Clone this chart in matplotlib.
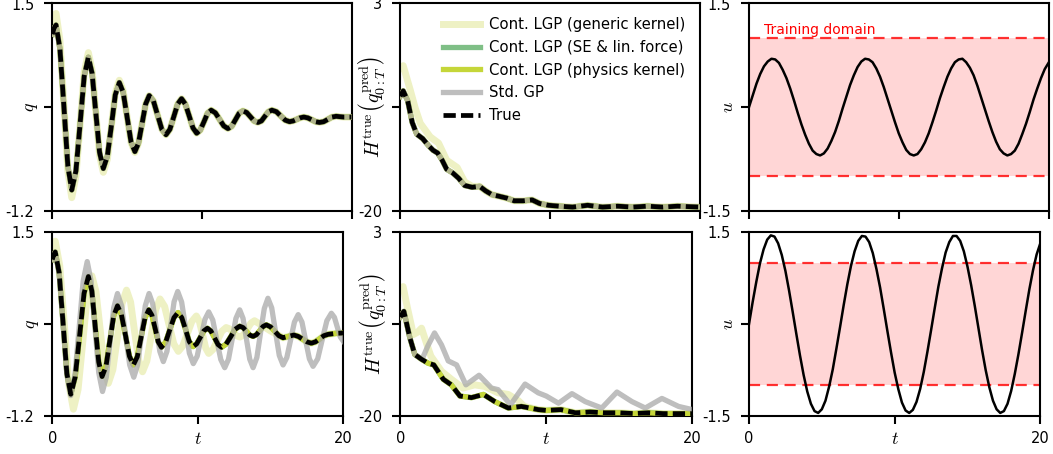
import numpy as np
import matplotlib
matplotlib.use('Agg')
import matplotlib.pyplot as plt

plt.rcParams['mathtext.fontset'] = 'cm'
plt.rcParams['axes.unicode_minus'] = False
plt.rcParams['font.size'] = 10

# ---------------- data ----------------
# top row, q(t) : true trajectory (SE, physics kernel and Std. GP lie on it)
t_q_top = [0, 0.12, 0.25, 0.51, 0.78, 1.04, 1.30, 1.58, 1.86, 2.13, 2.41, 2.66, 2.91, 3.16, 3.41,
           3.68, 3.95, 4.21, 4.48, 4.74, 5.00, 5.26, 5.52, 5.76, 6.00, 6.24, 6.48, 6.76, 7.04, 7.32,
           7.60, 7.86, 8.12, 8.38, 8.64, 8.89, 9.15, 9.40, 9.65, 9.89, 10.14, 10.38, 10.62, 10.90,
           11.18, 11.46, 11.74, 11.99, 12.24, 12.49, 12.74, 12.99, 13.24, 13.49, 13.74, 13.98, 14.21,
           14.45, 14.68, 14.98, 15.27, 15.57, 15.86, 16.10, 16.34, 16.57, 16.81, 17.07, 17.34, 17.60,
           17.86, 18.14, 18.42, 18.69, 18.97, 19.50, 20.00]
q_true_top = [1.10, 1.18, 1.22, 0.91, 0.145, -0.62, -0.93, -0.68, -0.065, 0.55, 0.80, 0.59, 0.075,
              -0.44, -0.65, -0.49, -0.09, 0.31, 0.47, 0.34, 0.02, -0.30, -0.43, -0.32, -0.065, 0.19,
              0.30, 0.23, 0.045, -0.14, -0.21, -0.14, 0.025, 0.19, 0.26, 0.19, 0.035, -0.12, -0.19,
              -0.15, -0.04, 0.07, 0.11, 0.075, -0.01, -0.095, -0.13, -0.10, -0.015, 0.07, 0.10, 0.08,
              0.025, -0.03, -0.05, -0.03, 0.03, 0.09, 0.11, 0.09, 0.035, -0.02, -0.04, -0.03, -0.01,
              0.01, 0.02, 0.01, -0.015, -0.04, -0.05, -0.04, -0.01, 0.02, 0.03, 0.02, 0.02]
# generic kernel overshoots a bit at the start, then joins the true curve
q_gen_top = [1.25, 1.35, 1.37, 1.02, 0.17, -0.68, -1.03, -0.75, -0.07, 0.60, 0.86, 0.63, 0.08,
             -0.48, -0.70, -0.53, -0.10, 0.33, 0.50, 0.36, 0.02, -0.31, -0.44] + q_true_top[23:]

# bottom row, q(t)
t_q_bot = [0, 0.1, 0.2, 0.47, 0.74, 1.0, 1.27, 1.57, 1.88, 2.18, 2.48, 2.72, 2.95, 3.19, 3.42, 3.69,
           3.95, 4.22, 4.48, 4.75, 5.03, 5.30, 5.57, 5.84, 6.10, 6.37, 6.63, 6.85, 7.07, 7.28, 7.5,
           7.79, 8.07, 8.36, 8.64, 8.90, 9.16, 9.41, 9.67, 9.92, 10.17, 10.41, 10.66, 10.90, 11.15,
           11.39, 11.63, 11.94, 12.26, 12.57, 12.88, 13.11, 13.34, 13.57, 13.8, 14.03, 14.26, 14.48,
           14.71, 15.0, 15.29, 15.57, 15.86, 16.23, 16.6, 16.9, 17.2, 17.5, 17.8, 18.09, 18.38,
           18.66, 18.95, 19.5, 20]
q_true_bot = [1.10, 1.17, 1.21, 0.905, 0.165, -0.575, -0.88, -0.63, -0.015, 0.60, 0.85, 0.635,
              0.115, -0.405, -0.62, -0.47, -0.10, 0.27, 0.42, 0.29, -0.015, -0.32, -0.45, -0.33,
              -0.045, 0.24, 0.36, 0.28, 0.085, -0.11, -0.19, -0.115, 0.065, 0.245, 0.32, 0.245, 0.07,
              -0.105, -0.18, -0.14, -0.045, 0.05, 0.09, 0.05, -0.05, -0.15, -0.19, -0.145, -0.035,
              0.075, 0.12, 0.10, 0.045, -0.01, -0.03, -0.005, 0.055, 0.115, 0.14, 0.11, 0.045, -0.02,
              -0.05, -0.03, -0.01, -0.03, -0.07, -0.11, -0.13, -0.11, -0.065, -0.02, 0.0, 0.015, 0.02]

t_gp_bot = [0, 0.1, 0.2, 0.47, 0.74, 1.0, 1.27, 1.55, 1.84, 2.12, 2.4, 2.66, 2.93, 3.19, 3.45, 3.71,
            3.97, 4.22, 4.48, 4.76, 5.04, 5.32, 5.6, 5.86, 6.13, 6.39, 6.65, 6.90, 7.14, 7.39, 7.63,
            7.88, 8.13, 8.37, 8.62, 8.89, 9.16, 9.42, 9.69, 9.96, 10.22, 10.49, 10.75, 11.03, 11.30,
            11.58, 11.85, 12.11, 12.37, 12.62, 12.88, 13.11, 13.34, 13.57, 13.8, 14.06, 14.31, 14.57,
            14.82, 15.08, 15.34, 15.60, 15.86, 16.12, 16.38, 16.64, 16.9, 17.16, 17.41, 17.67, 17.92,
            18.24, 18.55, 18.87, 19.18, 19.39, 19.59, 19.80, 20]
q_gp_bot = [1.10, 1.17, 1.21, 0.90, 0.155, -0.59, -0.90, -0.61, 0.085, 0.78, 1.07, 0.79, 0.115,
            -0.56, -0.84, -0.63, -0.12, 0.39, 0.60, 0.42, -0.015, -0.45, -0.63, -0.45, -0.015, 0.42,
            0.60, 0.45, 0.10, -0.25, -0.40, -0.25, 0.115, 0.48, 0.63, 0.475, 0.10, -0.275, -0.43,
            -0.32, -0.05, 0.22, 0.33, 0.21, -0.08, -0.37, -0.49, -0.365, -0.065, 0.235, 0.36, 0.235,
            -0.065, -0.365, -0.49, -0.34, 0.02, 0.38, 0.53, 0.39, 0.04, -0.31, -0.45, -0.34, -0.08,
            0.18, 0.29, 0.18, -0.09, -0.36, -0.47, -0.36, -0.08, 0.20, 0.31, 0.25, 0.105, -0.04, -0.10]

t_gen_bot = [0, 0.1, 0.2, 0.51, 0.83, 1.14, 1.45, 1.77, 2.09, 2.40, 2.72, 3.0, 3.29, 3.57, 3.85, 4.16,
             4.48, 4.79, 5.1, 5.38, 5.65, 5.93, 6.2, 6.5, 6.8, 7.1, 7.4, 7.72, 8.03, 8.35, 8.66, 8.97,
             9.28, 9.59, 9.9, 10.11, 10.33, 10.54, 10.75, 11.05, 11.35, 11.65, 11.95, 12.19, 12.43,
             12.66, 12.9, 13.15, 13.4, 13.65, 13.9, 14.45, 15.0, 15.43, 15.86, 16.23, 16.6, 16.9, 17.2,
             17.5, 17.8, 18.09, 18.38, 18.66, 18.95, 19.5, 20]
q_gen_bot = [1.25, 1.33, 1.37, 1.01, 0.135, -0.74, -1.10, -0.81, -0.12, 0.57, 0.86, 0.63, 0.07,
             -0.49, -0.72, -0.52, -0.035, 0.45, 0.65, 0.475, 0.05, -0.375, -0.55, -0.39, -0.015, 0.36,
             0.52, 0.41, 0.135, -0.14, -0.25, -0.17, 0.01, 0.19, 0.27, 0.19, -0.005, -0.20, -0.28,
             -0.22, -0.09, 0.045, 0.10, 0.08, 0.03, -0.02, -0.04, -0.005, 0.08, 0.165, 0.20, 0.125,
             0.05, 0.0, -0.05, -0.03, -0.01, -0.03, -0.07, -0.11, -0.13, -0.11, -0.065, -0.02, 0.0,
             0.015, 0.02]

# top row, true energy of the predicted trajectory
t_h_top = [0, 0.2, 0.5, 0.8, 1.1, 1.5, 1.9, 2.2, 2.5, 2.8, 3.1, 3.5, 3.9, 4.3, 4.8, 5.3, 5.7, 6.1,
           6.6, 7.1, 7.6, 8.2, 8.8, 9.3, 9.9, 10.6, 11.5, 12.5, 13.5, 14.5, 15.5, 16.5, 17.5, 18.5, 20]
h_true_top = [-7.3, -6.7, -7.8, -10.2, -11.5, -12.0, -12.8, -13.3, -13.6, -14.4, -15.4, -15.8, -16.4,
              -17.2, -17.4, -17.3, -17.8, -18.2, -18.4, -18.6, -18.9, -18.9, -18.8, -19.2, -19.4,
              -19.5, -19.6, -19.4, -19.6, -19.5, -19.6, -19.5, -19.6, -19.5, -19.6]
t_h_gen_top = [0, 0.2, 0.67, 1.0, 1.34, 2.0, 2.56, 3.1, 3.8, 4.3, 4.8] + t_h_top[15:]
h_gen_top = [-4.2, -3.9, -6.6, -8.6, -10.3, -11.8, -12.5, -14.4, -15.2, -16.8, -17.3] + h_true_top[15:]

# bottom row energies
t_h_bot = [0, 0.25, 0.66, 1.0, 1.46, 1.92, 2.3, 2.95, 3.5, 4.09, 4.88, 5.7, 6.48, 7.4, 8.3, 9.45, 10.0,
           11.0, 12.0, 13.0, 14.0, 15.0, 16.0, 17.0, 18.0, 19.0, 20]
h_true_bot = [-7.6, -6.9, -10.2, -12.3, -12.9, -13.4, -13.6, -15.4, -16.1, -17.5, -17.7, -17.3, -18.2,
              -19.0, -18.8, -19.2, -19.3, -19.2, -19.6, -19.5, -19.6, -19.6, -19.7, -19.6, -19.7,
              -19.7, -19.7]
t_h_gp_bot = [0, 0.25, 0.66, 1.0, 1.5, 1.9, 2.35, 2.83, 3.29, 3.86, 4.5, 5.4, 6.25, 6.7, 7.55, 8.55,
              9.45, 10.0, 10.84, 11.76, 12.67, 13.8, 14.84, 15.87, 16.78, 17.92, 19.06, 20]
h_gp_bot = [-7.6, -6.9, -10.2, -12.3, -12.9, -11.2, -9.6, -11.1, -13.1, -13.6, -16.1, -14.9, -16.5,
            -16.7, -18.6, -16.0, -17.1, -17.5, -18.4, -17.2, -18.2, -19.0, -17.0, -18.2, -19.0,
            -17.8, -18.8, -19.2]
t_h_gen_bot = [0, 0.2, 0.5, 0.9, 1.2, 1.46, 1.8, 2.1, 2.83, 3.5, 4.3, 5.1, 5.8, 6.7, 7.4, 8.1, 8.5] + t_h_bot[15:]
h_gen_bot = [-4.2, -3.8, -6.5, -9.8, -9.5, -9.0, -10.9, -12.5, -14.4, -15.4, -16.5, -16.1, -16.3,
             -17.1, -17.3, -18.1, -18.8] + h_true_bot[15:]

# control input u(t), sampled every 0.25
t_u = np.arange(0, 20.001, 0.25)
u_top = [0, 0.17, 0.34, 0.48, 0.59, 0.66, 0.70, 0.69, 0.64, 0.54,
         0.42, 0.27, 0.10, -0.08, -0.25, -0.40, -0.53, -0.63, -0.68, -0.70,
         -0.67, -0.60, -0.49, -0.36, -0.20, -0.02, 0.15, 0.32, 0.46, 0.58,
         0.66, 0.70, 0.69, 0.65, 0.56, 0.44, 0.29, 0.12, -0.05, -0.22,
         -0.38, -0.51, -0.62, -0.68, -0.70, -0.68, -0.61, -0.51, -0.38, -0.22,
         -0.05, 0.13, 0.29, 0.44, 0.56, 0.65, 0.69, 0.70, 0.65, 0.57,
         0.46, 0.31, 0.14, -0.03, -0.20, -0.36, -0.50, -0.61, -0.67, -0.70,
         -0.68, -0.63, -0.53, -0.39, -0.24, -0.07, 0.11, 0.27, 0.42, 0.55, 0.64]
u_bot = [0, 0.36, 0.69, 0.99, 1.22, 1.38, 1.45, 1.43, 1.32, 1.13,
         0.87, 0.55, 0.20, -0.16, -0.51, -0.83, -1.10, -1.30, -1.42, -1.45,
         -1.39, -1.25, -1.02, -0.74, -0.40, -0.05, 0.31, 0.65, 0.95, 1.19,
         1.36, 1.44, 1.43, 1.34, 1.16, 0.90, 0.60, 0.25, -0.11, -0.46,
         -0.79, -1.06, -1.28, -1.41, -1.45, -1.40, -1.27, -1.06, -0.78, -0.45,
         -0.10, 0.26, 0.61, 0.91, 1.17, 1.34, 1.44, 1.44, 1.36, 1.19,
         0.94, 0.64, 0.30, -0.06, -0.42, -0.75, -1.03, -1.25, -1.39, -1.45,
         -1.42, -1.30, -1.09, -0.81, -0.49, -0.14, 0.22, 0.57, 0.88, 1.14, 1.32]
train_lo, train_hi = -1.0, 1.0

labels = ['Cont. LGP (generic kernel)', 'Cont. LGP (SE & lin. force)',
          'Cont. LGP (physics kernel)', 'Std. GP', 'True']

# ---------------- styling ----------------
c_gen = '#eef1c4'
c_se = '#7fbf86'
c_phys = '#c5d639'
c_gp = '#a8a8a8'


def draw_runs(ax, gen, se, phys, gp, true, legend=False):
    lab = labels if legend else [None] * 5
    ax.plot(*gen, color=c_gen, lw=5.0, label=lab[0], zorder=1)
    ax.plot(*se, color=c_se, lw=3.8, label=lab[1], zorder=2)
    ax.plot(*phys, color=c_phys, lw=3.8, label=lab[2], zorder=3)
    ax.plot(*gp, color=c_gp, lw=3.8, alpha=0.75, label=lab[3], zorder=4)
    ax.plot(*true, color='k', lw=3.4, dashes=(2.6, 1.1), label=lab[4], zorder=5)


def style(ax, ylim, ylab, ylabel, bottom, ylab_size=13):
    ax.set_xlim(0, 20)
    ax.set_ylim(*ylim)
    ax.set_xticks([0, 10, 20])
    ax.set_yticks([ylim[0], (ylim[0] + ylim[1]) / 2, ylim[1]])
    ax.set_yticklabels([ylab[0], '', ylab[1]])
    if bottom:
        ax.set_xticklabels(['0', '', '20'])
        ax.set_xlabel('$t$', fontsize=13)
        ax.xaxis.set_label_coords(0.5, -0.075)
    else:
        ax.set_xticklabels(['', '', ''])
    ax.set_ylabel(ylabel, fontsize=ylab_size)
    ax.yaxis.set_label_coords(-0.04, 0.5)
    for s in ax.spines.values():
        s.set_linewidth(1.5)
    ax.tick_params(direction='out', length=6, width=1.5, labelsize=10.5)
    ax.tick_params(axis='y', pad=7)
    ax.tick_params(axis='x', pad=5)


def draw_u(ax, u, with_text):
    ax.axhspan(train_lo, train_hi, color='red', alpha=0.16, lw=0, zorder=0)
    ax.axhline(train_hi, color='red', alpha=0.8, lw=1.6, dashes=(5, 3))
    ax.axhline(train_lo, color='red', alpha=0.8, lw=1.6, dashes=(5, 3))
    ax.plot(t_u, u, color='k', lw=1.8, zorder=3)
    if with_text:
        ax.text(1.0, train_hi + 0.02, 'Training domain', color='red', fontsize=10,
                ha='left', va='bottom')


fig = plt.figure(figsize=(10.53, 4.54), dpi=100)
W, H = 1053.0, 454.0


def add_ax(x0, x1, y0, y1):
    return fig.add_axes([x0 / W, 1 - y1 / H, (x1 - x0) / W, (y1 - y0) / H])


hlab = r'$H^{\mathrm{true}}\left(q^{\mathrm{pred}}_{0:T}\right)$'

# top row
ax = add_ax(52.3, 351.5, 3.5, 210.7)
draw_runs(ax, (t_q_top, q_gen_top), (t_q_top, q_true_top), (t_q_top, q_true_top),
          (t_q_top, q_true_top), (t_q_top, q_true_top))
style(ax, (-1.2, 1.5), ('-1.2', '1.5'), '$q$', False)

ax = add_ax(400.2, 700.0, 3.5, 210.7)
draw_runs(ax, (t_h_gen_top, h_gen_top), (t_h_top, h_true_top), (t_h_top, h_true_top),
          (t_h_top, h_true_top), (t_h_top, h_true_top), legend=True)
style(ax, (-20, 3), ('-20', '3'), hlab, False, ylab_size=14.5)
ax.legend(loc='upper right', bbox_to_anchor=(0.995, 0.999), frameon=False, fontsize=10.7,
          handlelength=2.5, handletextpad=0.6, labelspacing=0.52)

ax = add_ax(749.0, 1048.5, 3.5, 210.7)
draw_u(ax, u_top, True)
style(ax, (-1.5, 1.5), ('-1.5', '1.5'), '$u$', False)

# bottom row
ax = add_ax(52.3, 343.3, 232.3, 416.0)
draw_runs(ax, (t_gen_bot, q_gen_bot), (t_q_bot, q_true_bot), (t_q_bot, q_true_bot),
          (t_gp_bot, q_gp_bot), (t_q_bot, q_true_bot))
style(ax, (-1.2, 1.5), ('-1.2', '1.5'), '$q$', True)

ax = add_ax(400.2, 692.3, 232.3, 416.0)
draw_runs(ax, (t_h_gen_bot, h_gen_bot), (t_h_bot, h_true_bot), (t_h_bot, h_true_bot),
          (t_h_gp_bot, h_gp_bot), (t_h_bot, h_true_bot))
style(ax, (-20, 3), ('-20', '3'), hlab, True, ylab_size=14.5)

ax = add_ax(749.0, 1040.3, 232.3, 416.0)
draw_u(ax, u_bot, False)
style(ax, (-1.5, 1.5), ('-1.5', '1.5'), '$u$', True)

fig.savefig('out.png', dpi=100)
